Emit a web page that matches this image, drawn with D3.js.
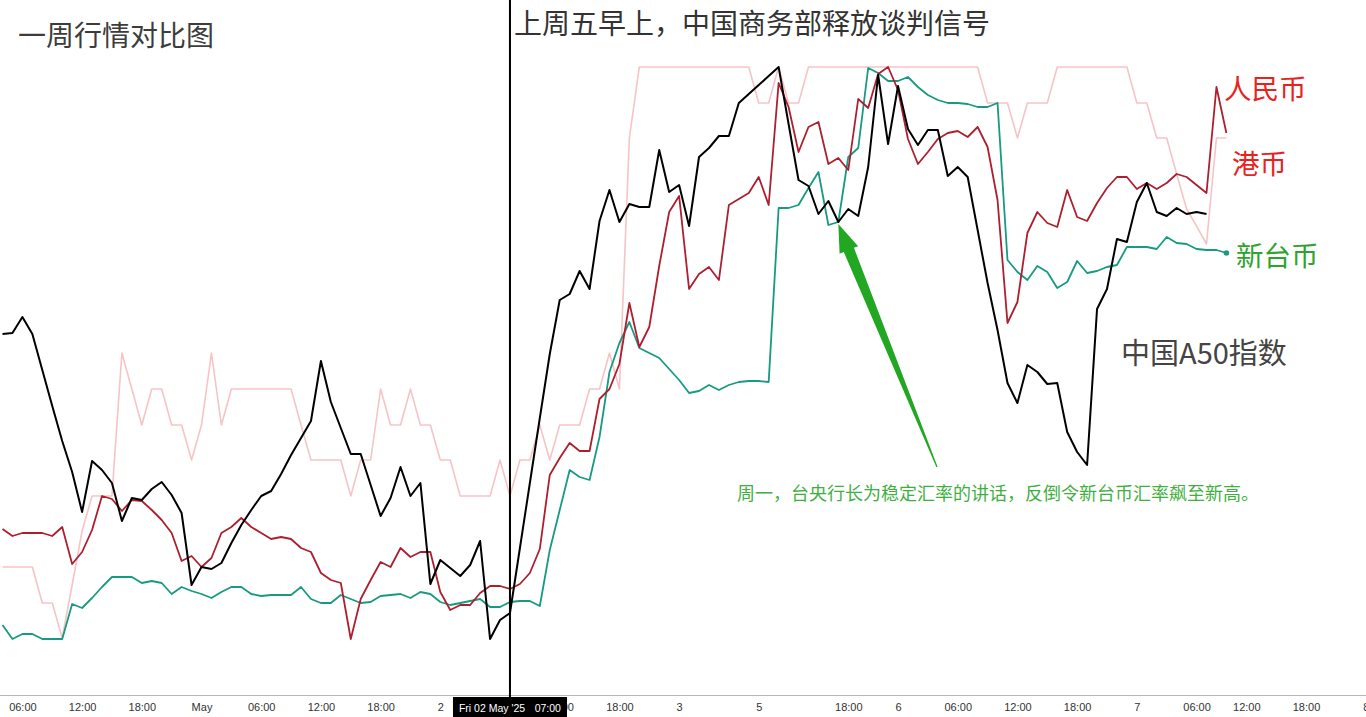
<!DOCTYPE html>
<html><head><meta charset="utf-8">
<script src="https://cdn.jsdelivr.net/npm/d3@7"></script>
<style>html,body{margin:0;padding:0;background:#fff;overflow:hidden}</style>
</head><body><svg id="c" width="1366" height="717"></svg>
<script>
// bar index axis (hourly bars, gaps removed)
const tickIdx = [2,8,14,20,26,32,38,44,56,62,68,76,85,90,96,102,108,114,120,125,131,137];
const tickText = ["06:00","12:00","18:00","May","06:00","12:00","18:00","2","12:00","18:00","3","5","18:00","6","06:00","12:00","18:00","7","06:00","12:00","18:00","8"];
const crossIdx = 51;
const crossLabel = ["Fri 02 May '25", "07:00"];

// relative levels (normalized comparison units)
const a50 = [35.6,35.7,37.3,35.6,32.0,28.4,24.9,21.8,17.8,22.9,22.0,20.7,16.9,19.2,19.0,20.1,20.8,19.5,17.7,10.5,
12.3,12.1,12.7,14.7,16.5,18.0,19.4,19.9,21.6,23.5,25.2,26.9,32.9,28.8,26.2,23.6,23.6,20.5,17.4,19.2,
22.3,19.4,20.7,10.6,13.0,12.2,11.4,12.5,14.9,5.1,7.0,7.7,14.2,20.7,27.2,33.6,39.0,39.6,41.9,40.1,
46.9,50.0,46.8,48.6,48.3,48.3,54.0,49.8,50.5,46.4,53.3,54.2,55.4,55.4,58.7,59.6,60.5,61.4,62.3,56.6,
51.0,50.4,47.6,48.9,46.8,48.1,47.4,52.3,61.5,54.6,60.4,56.1,54.5,56.0,56.0,51.4,52.3,51.3,46.0,40.7,
36.0,30.7,28.7,32.5,31.8,30.6,30.7,25.8,23.8,22.5,38.1,40.1,45.1,44.8,48.8,50.7,47.8,47.4,48.2,47.6,
47.8,47.6];
const cny = [16.1,15.4,15.7,15.7,15.7,15.4,16.3,12.6,13.8,16.0,19.4,19.1,17.9,19.0,18.9,18.0,17.0,15.7,12.9,13.4,
12.3,13.2,15.7,16.3,17.2,16.3,15.7,15.1,15.3,15.1,14.2,13.8,11.7,11.0,10.7,5.1,9.1,11.0,12.8,12.3,
14.2,13.3,13.8,13.8,9.8,8.0,8.5,8.5,9.7,10.4,10.4,10.1,10.6,11.7,14.1,21.5,23.2,24.7,23.9,23.9,
29.1,30.1,32.6,38.7,34.3,36.3,42.4,47.8,49.4,40.1,41.6,42.3,41.0,48.5,49.1,49.7,51.3,48.5,60.7,58.3,
53.8,56.3,56.8,52.6,53.2,52.0,59.1,58.2,61.6,62.3,60.0,55.1,52.6,53.8,55.1,55.7,55.9,55.3,56.3,54.3,
49.0,36.7,38.8,45.7,47.8,46.7,46.3,50.0,47.3,46.9,48.7,50.2,51.3,51.3,50.1,50.7,50.1,50.7,51.6,51.3,
50.5,49.7,60.3,55.7];
const twd = [6.5,5.1,5.6,5.6,5.1,5.1,5.1,8.6,8.2,9.2,10.3,11.3,11.3,11.3,10.7,10.9,10.7,9.6,10.3,9.9,
9.6,9.2,9.8,10.3,10.3,9.6,9.4,9.5,9.5,9.5,10.3,9.1,8.7,8.7,9.5,9.1,8.7,8.8,9.4,9.5,
9.6,9.2,9.8,9.6,8.8,8.5,8.7,8.9,9.1,8.3,8.3,8.8,8.9,8.9,8.4,14.0,18.0,22.0,21.3,21.0,
25.3,31.8,34.7,36.8,34.2,33.7,33.2,32.1,31.0,29.7,29.9,30.5,30.0,30.5,30.8,30.9,30.9,30.8,48.2,48.2,
48.5,50.2,51.8,46.5,46.8,53.3,54.2,62.2,61.7,60.9,60.9,61.3,60.3,59.5,59.0,58.7,58.7,58.6,58.3,58.3,
58.7,43.0,41.8,41.0,42.4,41.8,40.2,40.8,42.9,41.7,41.9,42.3,42.5,44.3,44.3,44.3,44.1,45.3,44.7,44.6,
44.1,44.0,44.0,43.7];
const hkd = [12.3,12.3,12.3,12.3,8.7,8.7,5.2,10.5,15.9,19.4,19.4,19.4,33.7,30.1,26.5,30.1,30.1,26.5,26.5,23.0,
26.5,33.7,26.5,30.1,30.1,30.1,30.1,30.1,30.1,30.1,26.5,23.0,23.0,23.0,23.0,19.4,23.0,23.0,30.1,26.5,
26.5,30.1,26.5,26.5,23.0,23.0,19.4,19.4,19.4,19.4,23.0,19.4,23.0,23.0,26.5,23.0,26.5,26.5,26.5,30.1,
30.1,33.7,30.1,55.2,62.3,62.3,62.3,62.3,62.3,62.3,62.3,62.3,62.3,62.3,62.3,62.3,58.7,58.7,62.3,58.7,
58.7,62.3,62.3,62.3,62.3,62.3,62.3,62.3,62.3,62.3,62.3,62.3,62.3,62.3,62.3,62.3,62.3,62.3,62.3,58.7,
58.7,58.7,55.2,58.7,58.7,58.7,62.3,62.3,62.3,62.3,62.3,62.3,62.3,62.3,58.7,58.7,55.2,55.2,51.6,48.1,
46.4,44.6,55.2,55.2];

const seriesNames = ["港币","新台币","人民币","中国A50指数"];
const seriesColors = ["#f6c4c6","#179a80","#ad1f2f","#000000"];

const svg = d3.select("#c");
const W = 1366, H = 717;
const x = d3.scaleLinear().domain([0,137]).range([2.5, 1365.7]);
const y = d3.scaleLinear().domain([0,63]).range([690,60]);

const line = d3.line().x((d,i)=>x(i)).y(d=>y(d));
const plot = svg.append("g");
plot.append("path").datum(hkd).attr("d",line).attr("fill","none").attr("stroke",seriesColors[0]).attr("stroke-width",1.6).attr("stroke-linejoin","round");
plot.append("path").datum(twd).attr("d",line).attr("fill","none").attr("stroke",seriesColors[1]).attr("stroke-width",1.8).attr("stroke-linejoin","round");
plot.append("path").datum(cny).attr("d",line).attr("fill","none").attr("stroke",seriesColors[2]).attr("stroke-width",1.8).attr("stroke-linejoin","round");
plot.append("path").datum(a50).attr("d",line).attr("fill","none").attr("stroke",seriesColors[3]).attr("stroke-width",2).attr("stroke-linejoin","round");
plot.append("circle").attr("cx",x(twd.length-1)).attr("cy",y(twd[twd.length-1])).attr("r",2.8).attr("fill",seriesColors[1]);

// axis
svg.append("line").attr("x1",0).attr("x2",W).attr("y1",695.5).attr("y2",695.5).attr("stroke","#b8b8b8").attr("stroke-width",1);
const axis = d3.axisBottom(x).tickValues(tickIdx).tickFormat((d,i)=>tickText[i]).tickSize(0).tickPadding(0);
const ag = svg.append("g").attr("transform","translate(0,703)").call(axis);
ag.select(".domain").remove();
ag.selectAll("text").attr("font-family","Liberation Sans, Arial, sans-serif").attr("font-size",11).attr("fill","#333").attr("dy","0.71em");

// crosshair
const cx = x(crossIdx);
svg.append("line").attr("x1",cx).attr("x2",cx).attr("y1",0).attr("y2",697).attr("stroke","#000").attr("stroke-width",2);
svg.append("rect").attr("x",cx-57).attr("y",697).attr("width",114).attr("height",20).attr("fill","#000");
svg.append("text").attr("x",cx-51).attr("y",712).attr("font-family","Liberation Sans, Arial, sans-serif").attr("font-size",10.5).attr("fill","#fff").text(crossLabel[0]);
svg.append("text").attr("x",cx+51).attr("y",712).attr("text-anchor","end").attr("font-family","Liberation Sans, Arial, sans-serif").attr("font-size",10.5).attr("fill","#fff").text(crossLabel[1]);

// titles
const cjk = "'Noto Sans CJK SC', 'Noto Sans', sans-serif";
svg.append("text").attr("x",18).attr("y",46).attr("font-family",cjk).attr("font-size",28).attr("fill","#3c3c3c").text("一周行情对比图");
svg.append("text").attr("x",514).attr("y",34).attr("font-family",cjk).attr("font-size",28).attr("fill","#333").text("上周五早上，中国商务部释放谈判信号");

// series labels
svg.append("text").attr("x",1224).attr("y",99).attr("font-family",cjk).attr("font-size",27.5).attr("fill","#e8231d").text(seriesNames[2]);
svg.append("text").attr("x",1232).attr("y",174).attr("font-family",cjk).attr("font-size",27.5).attr("fill","#e8231d").text(seriesNames[0]);
svg.append("text").attr("x",1236).attr("y",266).attr("font-family",cjk).attr("font-size",27.5).attr("fill","#2ea32e").text(seriesNames[1]);
svg.append("text").attr("x",1121).attr("y",364).attr("font-family",cjk).attr("font-size",29).attr("fill","#444").text(seriesNames[3]);

// annotation arrow pointing at TWD point (Monday)
const tipI = 84;
const tx = x(tipI), ty = y(twd[tipI]) + 2;
const tail = [937, 467];
const ang = Math.atan2(tail[1]-ty, tail[0]-tx);
const ux = Math.cos(ang), uy = Math.sin(ang), px = -uy, py = ux;
const headLen = 28, headW = 10, shaftW = 5.5;
const hb = [tx+ux*headLen, ty+uy*headLen];
const pts = [
  [tx,ty],
  [hb[0]+px*headW, hb[1]+py*headW],
  [hb[0]+px*shaftW, hb[1]+py*shaftW],
  [tail[0]+px*0.6, tail[1]+py*0.6],
  [tail[0]-px*0.6, tail[1]-py*0.6],
  [hb[0]-px*shaftW, hb[1]-py*shaftW],
  [hb[0]-px*headW, hb[1]-py*headW]
];
svg.append("polygon").attr("points",pts.map(p=>p.join(",")).join(" ")).attr("fill","#22a722");
svg.append("text").attr("x",737).attr("y",500).attr("font-family",cjk).attr("font-size",18).attr("fill","#3fb03f").text("周一，台央行长为稳定汇率的讲话，反倒令新台币汇率飙至新高。");
</script></body></html>
